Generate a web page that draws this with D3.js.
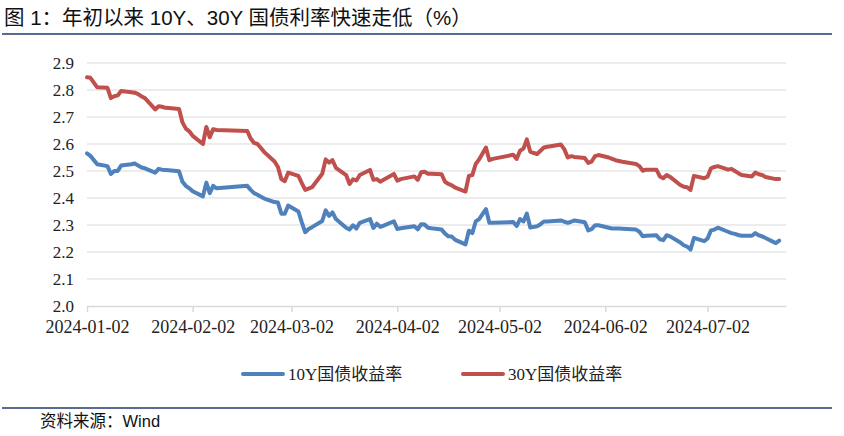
<!DOCTYPE html>
<html>
<head>
<meta charset="utf-8">
<script src="https://cdn.jsdelivr.net/npm/d3@7/dist/d3.min.js"></script>
<style>
  html, body { margin: 0; padding: 0; background: #fff; }
  svg { display: block; }
  .serif { font-family: "Liberation Serif", "Times New Roman", "Noto Sans CJK SC", serif; }
  .sans { font-family: "Liberation Sans", Arial, "Noto Sans CJK SC", sans-serif; }
</style>
</head>
<body>
<svg id="chart" width="844" height="436"></svg>
<script>
const dates = [
  "2024-01-02","2024-01-03","2024-01-05","2024-01-08","2024-01-09","2024-01-10","2024-01-11","2024-01-12",
  "2024-01-15","2024-01-16","2024-01-17","2024-01-18","2024-01-19","2024-01-22","2024-01-23","2024-01-24",
  "2024-01-25","2024-01-26","2024-01-29","2024-01-30","2024-01-31","2024-02-01","2024-02-02","2024-02-05",
  "2024-02-06","2024-02-07","2024-02-08","2024-02-09","2024-02-18","2024-02-19","2024-02-20","2024-02-21",
  "2024-02-22","2024-02-23","2024-02-26","2024-02-27","2024-02-28","2024-02-29","2024-03-01","2024-03-04",
  "2024-03-05","2024-03-06","2024-03-07","2024-03-08","2024-03-11","2024-03-12","2024-03-13","2024-03-14",
  "2024-03-15","2024-03-18","2024-03-19","2024-03-20","2024-03-21","2024-03-22","2024-03-25","2024-03-26",
  "2024-03-27","2024-03-28","2024-03-29","2024-04-01","2024-04-02","2024-04-03","2024-04-07","2024-04-08",
  "2024-04-09","2024-04-10","2024-04-11","2024-04-12","2024-04-15","2024-04-16","2024-04-17","2024-04-18",
  "2024-04-19","2024-04-22","2024-04-23","2024-04-24","2024-04-25","2024-04-26","2024-04-28","2024-04-29",
  "2024-04-30","2024-05-06","2024-05-07","2024-05-08","2024-05-09","2024-05-10","2024-05-11","2024-05-13",
  "2024-05-14","2024-05-15","2024-05-16","2024-05-17","2024-05-20","2024-05-21","2024-05-22","2024-05-23",
  "2024-05-24","2024-05-27","2024-05-28","2024-05-29","2024-05-30","2024-05-31","2024-06-03","2024-06-04",
  "2024-06-05","2024-06-06","2024-06-07","2024-06-11","2024-06-12","2024-06-13","2024-06-14","2024-06-17",
  "2024-06-18","2024-06-19","2024-06-20","2024-06-21","2024-06-24","2024-06-25","2024-06-26","2024-06-27",
  "2024-06-28","2024-07-01","2024-07-02","2024-07-03","2024-07-04","2024-07-05","2024-07-08","2024-07-09",
  "2024-07-10","2024-07-11","2024-07-12","2024-07-15","2024-07-16","2024-07-17","2024-07-18","2024-07-19",
  "2024-07-22","2024-07-23"
];

const y10 = [
  2.565,2.556,2.525,2.518,2.489,2.500,2.500,2.520,
  2.525,2.528,2.520,2.513,2.510,2.494,2.508,2.505,
  2.504,2.503,2.499,2.460,2.445,2.436,2.425,2.406,
  2.457,2.418,2.445,2.436,2.445,2.430,2.418,2.412,
  2.405,2.398,2.385,2.383,2.342,2.342,2.372,2.350,
  2.310,2.273,2.285,2.292,2.315,2.354,2.334,2.347,
  2.322,2.290,2.283,2.299,2.287,2.308,2.322,2.289,
  2.305,2.293,2.298,2.314,2.285,2.288,2.295,2.284,
  2.303,2.302,2.290,2.288,2.283,2.268,2.258,2.257,
  2.245,2.228,2.279,2.270,2.313,2.322,2.359,2.308,
  2.308,2.311,2.296,2.322,2.313,2.342,2.291,2.295,
  2.303,2.313,2.313,2.314,2.317,2.312,2.308,2.312,
  2.317,2.310,2.280,2.285,2.299,2.299,2.290,2.287,
  2.287,2.287,2.286,2.283,2.275,2.258,2.260,2.262,
  2.247,2.244,2.262,2.258,2.235,2.225,2.220,2.209,
  2.252,2.240,2.250,2.280,2.283,2.290,2.275,2.270,
  2.267,2.263,2.260,2.260,2.270,2.262,2.258,2.252,
  2.233,2.242
];

const y30 = [
  2.847,2.845,2.810,2.808,2.770,2.777,2.780,2.796,
  2.792,2.790,2.785,2.776,2.770,2.728,2.740,2.738,
  2.734,2.733,2.730,2.680,2.657,2.647,2.630,2.600,
  2.663,2.625,2.655,2.652,2.648,2.620,2.604,2.600,
  2.585,2.570,2.535,2.515,2.470,2.462,2.494,2.482,
  2.455,2.430,2.435,2.440,2.490,2.543,2.531,2.540,
  2.512,2.485,2.452,2.469,2.465,2.485,2.504,2.467,
  2.470,2.460,2.468,2.489,2.464,2.470,2.480,2.467,
  2.495,2.497,2.490,2.490,2.488,2.460,2.452,2.447,
  2.438,2.424,2.482,2.485,2.526,2.543,2.587,2.540,
  2.545,2.560,2.545,2.575,2.583,2.617,2.571,2.563,
  2.575,2.587,2.590,2.592,2.598,2.580,2.550,2.555,
  2.552,2.548,2.530,2.535,2.555,2.559,2.550,2.545,
  2.540,2.537,2.534,2.526,2.518,2.501,2.505,2.505,
  2.480,2.473,2.485,2.478,2.448,2.442,2.440,2.430,
  2.482,2.473,2.479,2.510,2.515,2.518,2.505,2.508,
  2.500,2.492,2.485,2.480,2.494,2.488,2.485,2.478,
  2.470,2.470
];

const seriesNames = ["10Y国债收益率", "30Y国债收益率"];
const seriesColors = ["#4f81bd", "#c0504d"];
const yTicks = [2.0, 2.1, 2.2, 2.3, 2.4, 2.5, 2.6, 2.7, 2.8, 2.9];
const xTickLabels = ["2024-01-02","2024-02-02","2024-03-02","2024-04-02","2024-05-02","2024-06-02","2024-07-02"];
const xDomain = ["2024-01-02", "2024-07-25"];
const titleText = "图 1：年初以来 10Y、30Y 国债利率快速走低（%）";
const sourceText = "资料来源：Wind";

(function () {
const parse = d3.timeParse("%Y-%m-%d");
const svg = d3.select("#chart");

const pLeft = 87, pRight = 786, pTop = 63, pBottom = 306;
const x = d3.scaleTime().domain(xDomain.map(parse)).range([pLeft, pRight]);
const y = d3.scaleLinear().domain([2.0, 2.9]).range([pBottom, pTop]);

// Title
svg.append("text").attr("class", "sans").attr("x", 4).attr("y", 25)
  .style("font-size", "20.5px").attr("fill", "#111")
  .text(titleText);
svg.append("line").attr("x1", 2).attr("x2", 832).attr("y1", 34).attr("y2", 34)
  .attr("stroke", "#1f3b6e").attr("stroke-width", 1.5);

// Gridlines
svg.append("g").selectAll("line").data(yTicks.filter(t => t > 2.0)).join("line")
  .attr("x1", pLeft).attr("x2", pRight)
  .attr("y1", d => y(d)).attr("y2", d => y(d))
  .attr("stroke", "#d9d9d9").attr("stroke-width", 1);

// Y axis labels
const yAxis = d3.axisLeft(y).tickValues(yTicks).tickFormat(d3.format(".1f")).tickSize(0).tickPadding(13);
const gy = svg.append("g").attr("transform", `translate(${pLeft},0)`).call(yAxis);
gy.attr("font-family", null).attr("font-size", null);
gy.select(".domain").remove();
gy.selectAll("text").attr("class", "serif").style("font-size", "17px").attr("fill", "#222");

// X axis
const xAxis = d3.axisBottom(x).tickValues(xTickLabels.map(parse))
  .tickFormat(d3.timeFormat("%Y-%m-%d")).tickSizeInner(6).tickSizeOuter(0).tickPadding(8);
const gx = svg.append("g").attr("transform", `translate(0,${pBottom})`).call(xAxis);
gx.attr("font-family", null).attr("font-size", null);
gx.select(".domain").attr("stroke", "#d9d9d9").attr("stroke-width", 1.5);
gx.selectAll(".tick line").attr("stroke", "#d9d9d9").attr("stroke-width", 1.5);
gx.selectAll("text").attr("class", "serif").style("font-size", "18px").attr("fill", "#222");

// Lines
const parsedDates = dates.map(parse);
const line = d3.line().x((d, i) => x(parsedDates[i])).y(d => y(d)).curve(d3.curveLinear);
[y10, y30].forEach((vals, k) => {
  svg.append("path").datum(vals)
    .attr("d", line)
    .attr("fill", "none")
    .attr("stroke", seriesColors[k])
    .attr("stroke-width", 4)
    .attr("stroke-linejoin", "round")
    .attr("stroke-linecap", "round");
});

// Legend
const legendX = [243, 463];
seriesNames.forEach((name, k) => {
  const g = svg.append("g").attr("transform", `translate(${legendX[k]},374)`);
  g.append("line").attr("x1", 0).attr("x2", 40).attr("y1", 0).attr("y2", 0)
    .attr("stroke", seriesColors[k]).attr("stroke-width", 4).attr("stroke-linecap", "round");
  g.append("text").attr("class", "serif").attr("x", 45).attr("y", 6)
    .style("font-size", "17px").attr("fill", "#222")
    .text(name);
});

// Bottom rule and source
svg.append("line").attr("x1", 2).attr("x2", 832).attr("y1", 408).attr("y2", 408)
  .attr("stroke", "#1f3b6e").attr("stroke-width", 1.5);
svg.append("text").attr("class", "sans").attr("x", 40).attr("y", 427)
  .style("font-size", "16.5px").attr("fill", "#111")
  .text(sourceText);
})();
</script>
</body>
</html>
